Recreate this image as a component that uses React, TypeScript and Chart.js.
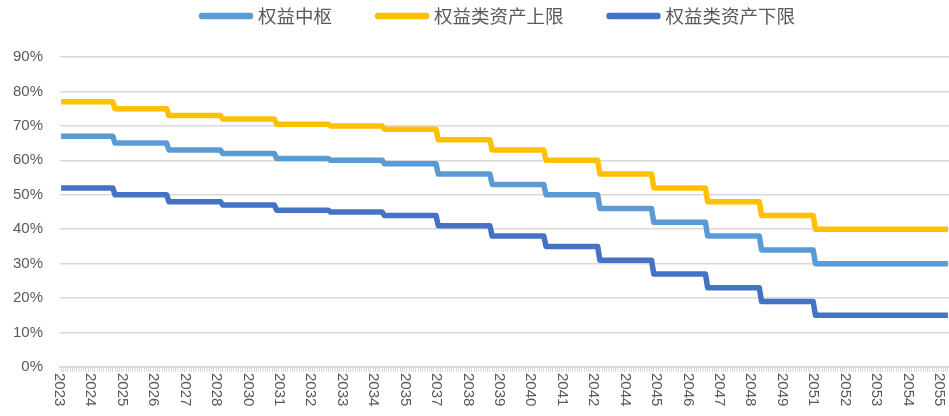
import React, { useEffect, useRef } from 'react';
import { Chart, registerables } from 'chart.js';

Chart.register(...registerables);

// ---- data ----
const startYear = 2023;
const endYear = 2055;
// years in which a new level starts (January of that year)
const stepYears = [2023, 2025, 2027, 2029, 2031, 2033, 2035, 2037, 2039, 2041, 2043, 2045, 2047, 2049, 2051];
const centerLevels = [67, 65, 63, 62, 60.5, 60, 59, 56, 53, 50, 46, 42, 38, 34, 30];
const upperLevels = [77, 75, 73, 72, 70.5, 70, 69, 66, 63, 60, 56, 52, 48, 44, 40];
const lowerLevels = [52, 50, 48, 47, 45.5, 45, 44, 41, 38, 35, 31, 27, 23, 19, 15];
const seriesNames = ['权益中枢', '权益类资产上限', '权益类资产下限'];
const seriesColors = ['#5B9BD5', '#FFC000', '#4472C4'];
const yMin = 0;
const yMax = 90;
const yStep = 10;
const labelEvery = 14; // one year label every 14 monthly categories

// monthly categories
const categories: string[] = [];
for (let y = startYear; y <= endYear; y++) {
  for (let m = 1; m <= 12; m++) categories.push(`${y}-${m < 10 ? '0' + m : m}`);
}

function expand(levels: number[]): number[] {
  return categories.map((c) => {
    const y = parseInt(c.slice(0, 4), 10);
    let idx = 0;
    for (let i = 0; i < stepYears.length; i++) if (y >= stepYears[i]) idx = i;
    return levels[idx];
  });
}

const FONT = "'Liberation Sans', Arial, sans-serif";
const CJK = "'Noto Sans CJK SC', sans-serif";
const TEXT = '#595959';
const GRID = '#d9d9d9';

const rotatedLabels = {
  id: 'rotatedLabels',
  afterDraw(chart: any) {
    const x = chart.scales.x;
    const ctx = chart.ctx;
    ctx.save();
    ctx.fillStyle = TEXT;
    ctx.font = `15px ${FONT}`;
    ctx.textAlign = 'left';
    ctx.textBaseline = 'middle';
    for (let i = 0; i < categories.length; i += labelEvery) {
      const px = x.getPixelForValue(i);
      ctx.save();
      ctx.translate(px - 2, x.top + 6);
      ctx.rotate(Math.PI / 2);
      ctx.fillText(categories[i].slice(0, 4), 0, 0);
      ctx.restore();
    }
    ctx.restore();
  },
};

const topLegend = {
  id: 'topLegend',
  afterDraw(chart: any) {
    const ctx = chart.ctx;
    const lineLen = 54;
    const gapText = 5;
    const gapItem = 43;
    const cy = 16;
    ctx.save();
    ctx.font = `18.5px ${CJK}`;
    const widths = seriesNames.map((n) => ctx.measureText(n).width);
    const total = widths.reduce((a, w) => a + lineLen + gapText + w, 0) + gapItem * (seriesNames.length - 1);
    let x = 497 - total / 2;
    ctx.textAlign = 'left';
    ctx.textBaseline = 'middle';
    seriesNames.forEach((n, i) => {
      ctx.strokeStyle = seriesColors[i];
      ctx.lineWidth = 6.5;
      ctx.lineCap = 'round';
      ctx.beginPath();
      ctx.moveTo(x + 3, cy);
      ctx.lineTo(x + lineLen - 3, cy);
      ctx.stroke();
      ctx.fillStyle = TEXT;
      ctx.fillText(n, x + lineLen + gapText, cy);
      x += lineLen + gapText + widths[i] + gapItem;
    });
    ctx.restore();
  },
};

export default function App() {
  const ref = useRef<HTMLCanvasElement | null>(null);
  useEffect(() => {
    document.body.style.margin = '0';
    document.body.style.overflow = 'hidden';
    if (!ref.current) return;
    const data = [expand(centerLevels), expand(upperLevels), expand(lowerLevels)];
    const chart = new Chart(ref.current, {
      type: 'line',
      data: {
        labels: categories,
        datasets: seriesNames.map((name, i) => ({
          label: name,
          data: data[i],
          borderColor: seriesColors[i],
          backgroundColor: seriesColors[i],
          borderWidth: 5.5,
          pointRadius: 0,
          tension: 0,
          fill: false,
          borderJoinStyle: 'round' as const,
          borderCapStyle: 'butt' as const,
        })),
      },
      options: {
        animation: false,
        responsive: false,
        layout: { padding: { left: 0, right: 0, top: 57, bottom: 44 } },
        plugins: {
          tooltip: { enabled: false },
          legend: { display: false },
        },
        scales: {
          x: {
            type: 'category',
            offset: true,
            grid: { drawOnChartArea: false, drawTicks: true, tickLength: 5, color: GRID, lineWidth: 1 },
            border: { display: true, color: GRID, width: 2 },
            ticks: { display: false, autoSkip: false },
          },
          y: {
            min: yMin,
            max: yMax,
            afterFit: (s: any) => {
              s.width = 60;
            },
            ticks: {
              stepSize: yStep,
              color: TEXT,
              font: { family: FONT, size: 15 },
              padding: 17,
              callback: (v: any) => `${v}%`,
            },
            grid: { color: GRID, lineWidth: 1.5, drawTicks: false },
            border: { display: false },
          },
        },
      },
      plugins: [rotatedLabels, topLegend],
    });
    return () => chart.destroy();
  }, []);
  return (
    <div style={{ width: 949, height: 416, overflow: 'hidden' }}>
      <canvas ref={ref} width={949} height={416} style={{ display: 'block' }} />
    </div>
  );
}
